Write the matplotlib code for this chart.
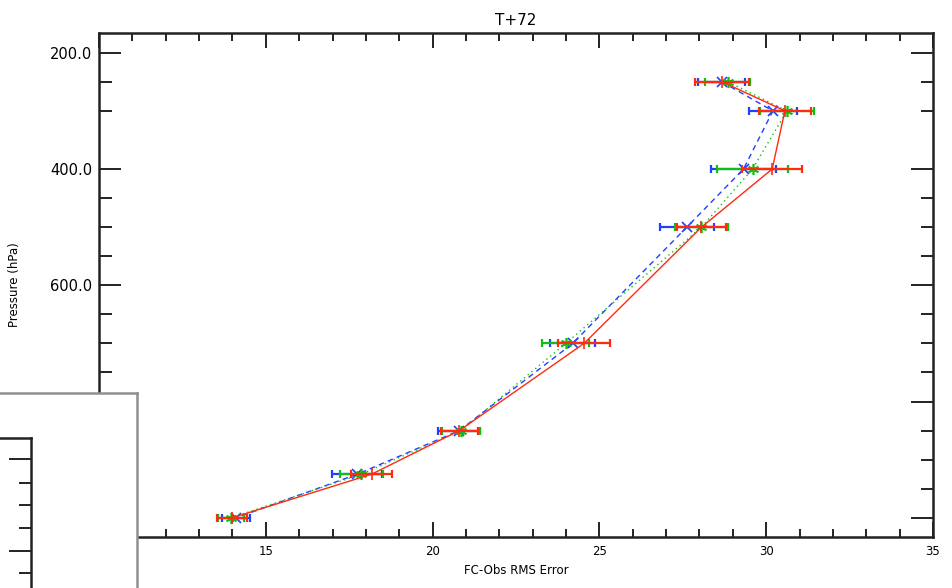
import numpy as np
import matplotlib.pyplot as plt
from matplotlib.ticker import FixedLocator, FormatStrFormatter

# pressure levels (hPa)
pressure = [250, 300, 400, 500, 700, 850, 925, 1000]

# FC-Obs RMS error for each run, with error bar half widths
blue_rms = [28.67, 30.20, 29.32, 27.62, 24.20, 20.80, 17.74, 14.11]
blue_err = [0.70, 0.72, 0.98, 0.81, 0.67, 0.63, 0.75, 0.42]
green_rms = [28.85, 30.62, 29.59, 28.06, 23.99, 20.85, 17.86, 13.96]
green_err = [0.67, 0.80, 1.05, 0.80, 0.71, 0.58, 0.65, 0.40]
red_rms = [28.68, 30.56, 30.18, 28.06, 24.54, 20.80, 18.17, 13.99]
red_err = [0.80, 0.78, 0.90, 0.74, 0.79, 0.55, 0.62, 0.44]

y_major = [200, 400, 600, 800, 1000]
y_minor = [250, 300, 450, 500, 550, 650, 700, 750, 850, 900, 950]
x_major = [10, 15, 20, 25, 30, 35]

W, H = 952, 588
fig = plt.figure(figsize=(W / 100, H / 100), dpi=100)
ax = fig.add_axes([99 / W, (H - 537) / H, 834 / W, 504 / H])

series = [
    (blue_rms, blue_err, '#2040ff', (0, (4, 3)), 'x', 7),
    (green_rms, green_err, '#10c010', (0, (1, 2.5)), (6, 2, 0), 8),
    (red_rms, red_err, '#ff2a10', '-', '+', 9),
]
for vals, err, col, ls, mk, ms in series:
    ax.plot(vals, pressure, color=col, ls=ls, lw=1.0)
    ax.errorbar(vals, pressure, xerr=err, fmt='none', ecolor=col,
                elinewidth=1.6, capsize=3, capthick=1.6)
    ax.plot(vals, pressure, ls='none', marker=mk, color=col, ms=ms, mew=1.2)

ax.set_xlim(10, 35)
ax.set_ylim(1033, 166)
ax.xaxis.set_major_locator(FixedLocator(x_major))
ax.xaxis.set_minor_locator(FixedLocator(np.arange(10, 35.5, 1)))
ax.yaxis.set_major_locator(FixedLocator(y_major))
ax.yaxis.set_minor_locator(FixedLocator(y_minor))
ax.yaxis.set_major_formatter(FormatStrFormatter('%.1f'))
ax.tick_params(which='both', direction='in', top=True, right=True,
               width=1.4, color='#222222')
ax.tick_params(axis='x', which='major', length=11, labelsize=8.5, pad=6)
ax.tick_params(axis='x', which='minor', length=6)
ax.tick_params(axis='y', which='major', length=16, labelsize=10.5, pad=5)
ax.tick_params(axis='y', which='minor', length=9)
for s in ax.spines.values():
    s.set_linewidth(1.8)
    s.set_color('#222222')

ax.set_title('T+72', fontsize=11, pad=6)
ax.set_xlabel('FC-Obs RMS Error', fontsize=8.5, labelpad=4)
ax.set_ylabel('Pressure (hPa)', fontsize=8.5, labelpad=14)

# overlapping window in the lower left corner
box = fig.add_axes([-0.01, -0.01, 137 / W + 0.01, (H - 393) / H + 0.01])
box.set_xticks([])
box.set_yticks([])
for k in ['left', 'bottom']:
    box.spines[k].set_visible(False)
for k in ['top', 'right']:
    box.spines[k].set_color('#909090')
    box.spines[k].set_linewidth(1.8)

inset_major = [459, 551]
inset_minor = [483, 505, 528, 573]
inner = fig.add_axes([-0.2, -0.2, 31 / W + 0.2, (H - 438) / H + 0.2])
inner.set_facecolor('none')
inner.set_xlim(0, 1)
inner.set_ylim(H + 0.2 * H, 438)
inner.set_xticks([])
inner.yaxis.tick_right()
inner.yaxis.set_major_locator(FixedLocator(inset_major))
inner.yaxis.set_minor_locator(FixedLocator(inset_minor))
inner.tick_params(which='both', direction='in', labelright=False,
                  width=1.4, color='#222222')
inner.tick_params(which='major', length=16)
inner.tick_params(which='minor', length=9)
for k in ['left', 'bottom']:
    inner.spines[k].set_visible(False)
for k in ['top', 'right']:
    inner.spines[k].set_linewidth(1.8)
    inner.spines[k].set_color('#222222')

fig.savefig('out.png', dpi=100)
